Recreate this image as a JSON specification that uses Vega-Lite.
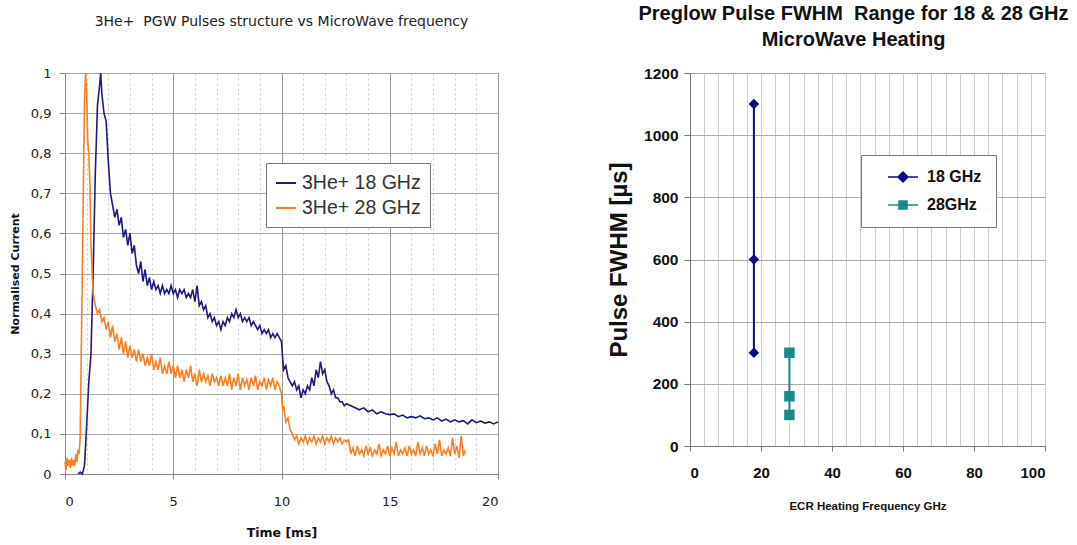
{
"$schema": "https://vega.github.io/schema/vega-lite/v6.json",
"background": "white",
"padding": {"left": 8, "top": 3, "right": 2, "bottom": 4},
"spacing": 192,
"bounds": "flush",
"resolve": {"scale": {"color": "independent", "shape": "independent"}, "legend": {"color": "independent", "shape": "independent"}},
"config": {"view": {"stroke": "#999", "strokeWidth": 1}},
"datasets": {
"pulses": [
{"s":"3He+ 18 GHz","t":0.6,"v":0},{"s":"3He+ 18 GHz","t":0.7,"v":0.005},{"s":"3He+ 18 GHz","t":0.8,"v":0},{"s":"3He+ 18 GHz","t":0.9,"v":0.02},{"s":"3He+ 18 GHz","t":1.0,"v":0.12},{"s":"3He+ 18 GHz","t":1.1,"v":0.23},{"s":"3He+ 18 GHz","t":1.2,"v":0.3},{"s":"3He+ 18 GHz","t":1.3,"v":0.5},{"s":"3He+ 18 GHz","t":1.4,"v":0.75},{"s":"3He+ 18 GHz","t":1.5,"v":0.92},{"s":"3He+ 18 GHz","t":1.6,"v":0.97},{"s":"3He+ 18 GHz","t":1.65,"v":1.0},{"s":"3He+ 18 GHz","t":1.7,"v":0.95},{"s":"3He+ 18 GHz","t":1.8,"v":0.9},{"s":"3He+ 18 GHz","t":1.9,"v":0.88},{"s":"3He+ 18 GHz","t":2.0,"v":0.78},{"s":"3He+ 18 GHz","t":2.1,"v":0.7},{"s":"3He+ 18 GHz","t":2.2,"v":0.67},{"s":"3He+ 18 GHz","t":2.3,"v":0.64},{"s":"3He+ 18 GHz","t":2.4,"v":0.66},{"s":"3He+ 18 GHz","t":2.5,"v":0.62},{"s":"3He+ 18 GHz","t":2.6,"v":0.64},{"s":"3He+ 18 GHz","t":2.7,"v":0.59},{"s":"3He+ 18 GHz","t":2.8,"v":0.61},{"s":"3He+ 18 GHz","t":2.9,"v":0.57},{"s":"3He+ 18 GHz","t":3.0,"v":0.6},{"s":"3He+ 18 GHz","t":3.1,"v":0.55},{"s":"3He+ 18 GHz","t":3.2,"v":0.57},{"s":"3He+ 18 GHz","t":3.3,"v":0.52},{"s":"3He+ 18 GHz","t":3.4,"v":0.5},{"s":"3He+ 18 GHz","t":3.5,"v":0.53},{"s":"3He+ 18 GHz","t":3.6,"v":0.48},{"s":"3He+ 18 GHz","t":3.7,"v":0.51},{"s":"3He+ 18 GHz","t":3.8,"v":0.47},{"s":"3He+ 18 GHz","t":3.9,"v":0.49},{"s":"3He+ 18 GHz","t":4.0,"v":0.46},{"s":"3He+ 18 GHz","t":4.1,"v":0.48},{"s":"3He+ 18 GHz","t":4.2,"v":0.46},{"s":"3He+ 18 GHz","t":4.3,"v":0.47},{"s":"3He+ 18 GHz","t":4.4,"v":0.45},{"s":"3He+ 18 GHz","t":4.5,"v":0.47},{"s":"3He+ 18 GHz","t":4.6,"v":0.45},{"s":"3He+ 18 GHz","t":4.7,"v":0.46},{"s":"3He+ 18 GHz","t":4.8,"v":0.45},{"s":"3He+ 18 GHz","t":4.9,"v":0.47},{"s":"3He+ 18 GHz","t":5.0,"v":0.45},{"s":"3He+ 18 GHz","t":5.1,"v":0.46},{"s":"3He+ 18 GHz","t":5.2,"v":0.44},{"s":"3He+ 18 GHz","t":5.3,"v":0.46},{"s":"3He+ 18 GHz","t":5.4,"v":0.45},{"s":"3He+ 18 GHz","t":5.5,"v":0.46},{"s":"3He+ 18 GHz","t":5.6,"v":0.44},{"s":"3He+ 18 GHz","t":5.7,"v":0.45},{"s":"3He+ 18 GHz","t":5.8,"v":0.44},{"s":"3He+ 18 GHz","t":5.9,"v":0.46},{"s":"3He+ 18 GHz","t":6.0,"v":0.43},{"s":"3He+ 18 GHz","t":6.1,"v":0.47},{"s":"3He+ 18 GHz","t":6.2,"v":0.42},{"s":"3He+ 18 GHz","t":6.3,"v":0.43},{"s":"3He+ 18 GHz","t":6.4,"v":0.41},{"s":"3He+ 18 GHz","t":6.5,"v":0.42},{"s":"3He+ 18 GHz","t":6.6,"v":0.39},{"s":"3He+ 18 GHz","t":6.7,"v":0.4},{"s":"3He+ 18 GHz","t":6.8,"v":0.38},{"s":"3He+ 18 GHz","t":6.9,"v":0.39},{"s":"3He+ 18 GHz","t":7.0,"v":0.37},{"s":"3He+ 18 GHz","t":7.1,"v":0.38},{"s":"3He+ 18 GHz","t":7.2,"v":0.36},{"s":"3He+ 18 GHz","t":7.3,"v":0.38},{"s":"3He+ 18 GHz","t":7.4,"v":0.37},{"s":"3He+ 18 GHz","t":7.5,"v":0.39},{"s":"3He+ 18 GHz","t":7.6,"v":0.38},{"s":"3He+ 18 GHz","t":7.7,"v":0.4},{"s":"3He+ 18 GHz","t":7.8,"v":0.39},{"s":"3He+ 18 GHz","t":7.9,"v":0.41},{"s":"3He+ 18 GHz","t":8.0,"v":0.39},{"s":"3He+ 18 GHz","t":8.1,"v":0.4},{"s":"3He+ 18 GHz","t":8.2,"v":0.38},{"s":"3He+ 18 GHz","t":8.3,"v":0.39},{"s":"3He+ 18 GHz","t":8.4,"v":0.38},{"s":"3He+ 18 GHz","t":8.5,"v":0.39},{"s":"3He+ 18 GHz","t":8.6,"v":0.37},{"s":"3He+ 18 GHz","t":8.7,"v":0.38},{"s":"3He+ 18 GHz","t":8.8,"v":0.37},{"s":"3He+ 18 GHz","t":8.9,"v":0.36},{"s":"3He+ 18 GHz","t":9.0,"v":0.37},{"s":"3He+ 18 GHz","t":9.1,"v":0.35},{"s":"3He+ 18 GHz","t":9.2,"v":0.36},{"s":"3He+ 18 GHz","t":9.3,"v":0.35},{"s":"3He+ 18 GHz","t":9.4,"v":0.36},{"s":"3He+ 18 GHz","t":9.5,"v":0.34},{"s":"3He+ 18 GHz","t":9.6,"v":0.35},{"s":"3He+ 18 GHz","t":9.7,"v":0.34},{"s":"3He+ 18 GHz","t":9.8,"v":0.35},{"s":"3He+ 18 GHz","t":9.9,"v":0.34},{"s":"3He+ 18 GHz","t":10.0,"v":0.33},{"s":"3He+ 18 GHz","t":10.05,"v":0.29},{"s":"3He+ 18 GHz","t":10.1,"v":0.26},{"s":"3He+ 18 GHz","t":10.2,"v":0.27},{"s":"3He+ 18 GHz","t":10.3,"v":0.24},{"s":"3He+ 18 GHz","t":10.4,"v":0.23},{"s":"3He+ 18 GHz","t":10.5,"v":0.22},{"s":"3He+ 18 GHz","t":10.6,"v":0.23},{"s":"3He+ 18 GHz","t":10.7,"v":0.21},{"s":"3He+ 18 GHz","t":10.8,"v":0.22},{"s":"3He+ 18 GHz","t":10.9,"v":0.19},{"s":"3He+ 18 GHz","t":11.0,"v":0.21},{"s":"3He+ 18 GHz","t":11.1,"v":0.2},{"s":"3He+ 18 GHz","t":11.2,"v":0.22},{"s":"3He+ 18 GHz","t":11.3,"v":0.21},{"s":"3He+ 18 GHz","t":11.4,"v":0.24},{"s":"3He+ 18 GHz","t":11.5,"v":0.22},{"s":"3He+ 18 GHz","t":11.6,"v":0.26},{"s":"3He+ 18 GHz","t":11.7,"v":0.24},{"s":"3He+ 18 GHz","t":11.8,"v":0.28},{"s":"3He+ 18 GHz","t":11.9,"v":0.25},{"s":"3He+ 18 GHz","t":12.0,"v":0.26},{"s":"3He+ 18 GHz","t":12.1,"v":0.23},{"s":"3He+ 18 GHz","t":12.2,"v":0.22},{"s":"3He+ 18 GHz","t":12.3,"v":0.2},{"s":"3He+ 18 GHz","t":12.4,"v":0.21},{"s":"3He+ 18 GHz","t":12.5,"v":0.19},{"s":"3He+ 18 GHz","t":12.6,"v":0.19},{"s":"3He+ 18 GHz","t":12.7,"v":0.18},{"s":"3He+ 18 GHz","t":12.8,"v":0.18},{"s":"3He+ 18 GHz","t":12.9,"v":0.17},{"s":"3He+ 18 GHz","t":13.0,"v":0.175},{"s":"3He+ 18 GHz","t":13.2,"v":0.17},{"s":"3He+ 18 GHz","t":13.4,"v":0.165},{"s":"3He+ 18 GHz","t":13.6,"v":0.16},{"s":"3He+ 18 GHz","t":13.8,"v":0.165},{"s":"3He+ 18 GHz","t":14.0,"v":0.155},{"s":"3He+ 18 GHz","t":14.2,"v":0.16},{"s":"3He+ 18 GHz","t":14.4,"v":0.15},{"s":"3He+ 18 GHz","t":14.6,"v":0.155},{"s":"3He+ 18 GHz","t":14.8,"v":0.15},{"s":"3He+ 18 GHz","t":15.0,"v":0.148},{"s":"3He+ 18 GHz","t":15.2,"v":0.15},{"s":"3He+ 18 GHz","t":15.4,"v":0.143},{"s":"3He+ 18 GHz","t":15.6,"v":0.147},{"s":"3He+ 18 GHz","t":15.8,"v":0.14},{"s":"3He+ 18 GHz","t":16.0,"v":0.143},{"s":"3He+ 18 GHz","t":16.2,"v":0.14},{"s":"3He+ 18 GHz","t":16.4,"v":0.145},{"s":"3He+ 18 GHz","t":16.6,"v":0.138},{"s":"3He+ 18 GHz","t":16.8,"v":0.14},{"s":"3He+ 18 GHz","t":17.0,"v":0.135},{"s":"3He+ 18 GHz","t":17.2,"v":0.14},{"s":"3He+ 18 GHz","t":17.4,"v":0.132},{"s":"3He+ 18 GHz","t":17.6,"v":0.137},{"s":"3He+ 18 GHz","t":17.8,"v":0.13},{"s":"3He+ 18 GHz","t":18.0,"v":0.135},{"s":"3He+ 18 GHz","t":18.2,"v":0.13},{"s":"3He+ 18 GHz","t":18.4,"v":0.133},{"s":"3He+ 18 GHz","t":18.6,"v":0.125},{"s":"3He+ 18 GHz","t":18.8,"v":0.135},{"s":"3He+ 18 GHz","t":19.0,"v":0.128},{"s":"3He+ 18 GHz","t":19.2,"v":0.132},{"s":"3He+ 18 GHz","t":19.4,"v":0.127},{"s":"3He+ 18 GHz","t":19.6,"v":0.13},{"s":"3He+ 18 GHz","t":19.8,"v":0.125},{"s":"3He+ 18 GHz","t":20.0,"v":0.13},
{"s":"3He+ 28 GHz","t":0.0,"v":0.03},{"s":"3He+ 28 GHz","t":0.05,"v":0.01},{"s":"3He+ 28 GHz","t":0.1,"v":0.04},{"s":"3He+ 28 GHz","t":0.15,"v":0.02},{"s":"3He+ 28 GHz","t":0.2,"v":0.035},{"s":"3He+ 28 GHz","t":0.25,"v":0.015},{"s":"3He+ 28 GHz","t":0.3,"v":0.04},{"s":"3He+ 28 GHz","t":0.35,"v":0.02},{"s":"3He+ 28 GHz","t":0.4,"v":0.035},{"s":"3He+ 28 GHz","t":0.45,"v":0.02},{"s":"3He+ 28 GHz","t":0.5,"v":0.05},{"s":"3He+ 28 GHz","t":0.55,"v":0.03},{"s":"3He+ 28 GHz","t":0.6,"v":0.06},{"s":"3He+ 28 GHz","t":0.65,"v":0.05},{"s":"3He+ 28 GHz","t":0.7,"v":0.09},{"s":"3He+ 28 GHz","t":0.75,"v":0.3},{"s":"3He+ 28 GHz","t":0.8,"v":0.5},{"s":"3He+ 28 GHz","t":0.85,"v":0.72},{"s":"3He+ 28 GHz","t":0.9,"v":0.93},{"s":"3He+ 28 GHz","t":0.95,"v":1.0},{"s":"3He+ 28 GHz","t":1.0,"v":0.95},{"s":"3He+ 28 GHz","t":1.05,"v":0.83},{"s":"3He+ 28 GHz","t":1.1,"v":0.8},{"s":"3He+ 28 GHz","t":1.15,"v":0.72},{"s":"3He+ 28 GHz","t":1.2,"v":0.58},{"s":"3He+ 28 GHz","t":1.25,"v":0.5},{"s":"3He+ 28 GHz","t":1.3,"v":0.45},{"s":"3He+ 28 GHz","t":1.4,"v":0.42},{"s":"3He+ 28 GHz","t":1.5,"v":0.4},{"s":"3He+ 28 GHz","t":1.6,"v":0.41},{"s":"3He+ 28 GHz","t":1.7,"v":0.38},{"s":"3He+ 28 GHz","t":1.8,"v":0.39},{"s":"3He+ 28 GHz","t":1.9,"v":0.36},{"s":"3He+ 28 GHz","t":2.0,"v":0.38},{"s":"3He+ 28 GHz","t":2.1,"v":0.34},{"s":"3He+ 28 GHz","t":2.2,"v":0.37},{"s":"3He+ 28 GHz","t":2.3,"v":0.33},{"s":"3He+ 28 GHz","t":2.4,"v":0.35},{"s":"3He+ 28 GHz","t":2.5,"v":0.31},{"s":"3He+ 28 GHz","t":2.6,"v":0.34},{"s":"3He+ 28 GHz","t":2.7,"v":0.3},{"s":"3He+ 28 GHz","t":2.8,"v":0.33},{"s":"3He+ 28 GHz","t":2.9,"v":0.29},{"s":"3He+ 28 GHz","t":3.0,"v":0.32},{"s":"3He+ 28 GHz","t":3.1,"v":0.29},{"s":"3He+ 28 GHz","t":3.2,"v":0.31},{"s":"3He+ 28 GHz","t":3.3,"v":0.28},{"s":"3He+ 28 GHz","t":3.4,"v":0.31},{"s":"3He+ 28 GHz","t":3.5,"v":0.28},{"s":"3He+ 28 GHz","t":3.6,"v":0.3},{"s":"3He+ 28 GHz","t":3.7,"v":0.27},{"s":"3He+ 28 GHz","t":3.8,"v":0.29},{"s":"3He+ 28 GHz","t":3.9,"v":0.27},{"s":"3He+ 28 GHz","t":4.0,"v":0.3},{"s":"3He+ 28 GHz","t":4.1,"v":0.26},{"s":"3He+ 28 GHz","t":4.2,"v":0.28},{"s":"3He+ 28 GHz","t":4.3,"v":0.26},{"s":"3He+ 28 GHz","t":4.4,"v":0.29},{"s":"3He+ 28 GHz","t":4.5,"v":0.25},{"s":"3He+ 28 GHz","t":4.6,"v":0.27},{"s":"3He+ 28 GHz","t":4.7,"v":0.25},{"s":"3He+ 28 GHz","t":4.8,"v":0.28},{"s":"3He+ 28 GHz","t":4.9,"v":0.25},{"s":"3He+ 28 GHz","t":5.0,"v":0.27},{"s":"3He+ 28 GHz","t":5.1,"v":0.24},{"s":"3He+ 28 GHz","t":5.2,"v":0.27},{"s":"3He+ 28 GHz","t":5.3,"v":0.24},{"s":"3He+ 28 GHz","t":5.4,"v":0.26},{"s":"3He+ 28 GHz","t":5.5,"v":0.23},{"s":"3He+ 28 GHz","t":5.6,"v":0.26},{"s":"3He+ 28 GHz","t":5.7,"v":0.24},{"s":"3He+ 28 GHz","t":5.8,"v":0.27},{"s":"3He+ 28 GHz","t":5.9,"v":0.23},{"s":"3He+ 28 GHz","t":6.0,"v":0.25},{"s":"3He+ 28 GHz","t":6.1,"v":0.22},{"s":"3He+ 28 GHz","t":6.2,"v":0.26},{"s":"3He+ 28 GHz","t":6.3,"v":0.23},{"s":"3He+ 28 GHz","t":6.4,"v":0.25},{"s":"3He+ 28 GHz","t":6.5,"v":0.23},{"s":"3He+ 28 GHz","t":6.6,"v":0.245},{"s":"3He+ 28 GHz","t":6.7,"v":0.22},{"s":"3He+ 28 GHz","t":6.8,"v":0.25},{"s":"3He+ 28 GHz","t":6.9,"v":0.23},{"s":"3He+ 28 GHz","t":7.0,"v":0.24},{"s":"3He+ 28 GHz","t":7.1,"v":0.22},{"s":"3He+ 28 GHz","t":7.2,"v":0.245},{"s":"3He+ 28 GHz","t":7.3,"v":0.22},{"s":"3He+ 28 GHz","t":7.4,"v":0.24},{"s":"3He+ 28 GHz","t":7.5,"v":0.22},{"s":"3He+ 28 GHz","t":7.6,"v":0.25},{"s":"3He+ 28 GHz","t":7.7,"v":0.21},{"s":"3He+ 28 GHz","t":7.8,"v":0.24},{"s":"3He+ 28 GHz","t":7.9,"v":0.22},{"s":"3He+ 28 GHz","t":8.0,"v":0.25},{"s":"3He+ 28 GHz","t":8.1,"v":0.21},{"s":"3He+ 28 GHz","t":8.2,"v":0.24},{"s":"3He+ 28 GHz","t":8.3,"v":0.22},{"s":"3He+ 28 GHz","t":8.4,"v":0.235},{"s":"3He+ 28 GHz","t":8.5,"v":0.21},{"s":"3He+ 28 GHz","t":8.6,"v":0.24},{"s":"3He+ 28 GHz","t":8.7,"v":0.22},{"s":"3He+ 28 GHz","t":8.8,"v":0.245},{"s":"3He+ 28 GHz","t":8.9,"v":0.21},{"s":"3He+ 28 GHz","t":9.0,"v":0.23},{"s":"3He+ 28 GHz","t":9.1,"v":0.22},{"s":"3He+ 28 GHz","t":9.2,"v":0.24},{"s":"3He+ 28 GHz","t":9.3,"v":0.21},{"s":"3He+ 28 GHz","t":9.4,"v":0.235},{"s":"3He+ 28 GHz","t":9.5,"v":0.22},{"s":"3He+ 28 GHz","t":9.6,"v":0.24},{"s":"3He+ 28 GHz","t":9.7,"v":0.21},{"s":"3He+ 28 GHz","t":9.8,"v":0.23},{"s":"3He+ 28 GHz","t":9.9,"v":0.22},{"s":"3He+ 28 GHz","t":10.0,"v":0.2},{"s":"3He+ 28 GHz","t":10.05,"v":0.16},{"s":"3He+ 28 GHz","t":10.1,"v":0.17},{"s":"3He+ 28 GHz","t":10.2,"v":0.13},{"s":"3He+ 28 GHz","t":10.3,"v":0.14},{"s":"3He+ 28 GHz","t":10.4,"v":0.11},{"s":"3He+ 28 GHz","t":10.5,"v":0.1},{"s":"3He+ 28 GHz","t":10.6,"v":0.085},{"s":"3He+ 28 GHz","t":10.7,"v":0.095},{"s":"3He+ 28 GHz","t":10.8,"v":0.075},{"s":"3He+ 28 GHz","t":10.9,"v":0.09},{"s":"3He+ 28 GHz","t":11.0,"v":0.08},{"s":"3He+ 28 GHz","t":11.1,"v":0.095},{"s":"3He+ 28 GHz","t":11.2,"v":0.075},{"s":"3He+ 28 GHz","t":11.3,"v":0.09},{"s":"3He+ 28 GHz","t":11.4,"v":0.08},{"s":"3He+ 28 GHz","t":11.5,"v":0.095},{"s":"3He+ 28 GHz","t":11.6,"v":0.075},{"s":"3He+ 28 GHz","t":11.7,"v":0.09},{"s":"3He+ 28 GHz","t":11.8,"v":0.08},{"s":"3He+ 28 GHz","t":11.9,"v":0.095},{"s":"3He+ 28 GHz","t":12.0,"v":0.075},{"s":"3He+ 28 GHz","t":12.1,"v":0.09},{"s":"3He+ 28 GHz","t":12.2,"v":0.08},{"s":"3He+ 28 GHz","t":12.3,"v":0.095},{"s":"3He+ 28 GHz","t":12.4,"v":0.075},{"s":"3He+ 28 GHz","t":12.5,"v":0.09},{"s":"3He+ 28 GHz","t":12.6,"v":0.08},{"s":"3He+ 28 GHz","t":12.7,"v":0.09},{"s":"3He+ 28 GHz","t":12.8,"v":0.075},{"s":"3He+ 28 GHz","t":12.9,"v":0.085},{"s":"3He+ 28 GHz","t":13.0,"v":0.08},{"s":"3He+ 28 GHz","t":13.1,"v":0.085},{"s":"3He+ 28 GHz","t":13.2,"v":0.05},{"s":"3He+ 28 GHz","t":13.3,"v":0.065},{"s":"3He+ 28 GHz","t":13.4,"v":0.045},{"s":"3He+ 28 GHz","t":13.5,"v":0.07},{"s":"3He+ 28 GHz","t":13.6,"v":0.05},{"s":"3He+ 28 GHz","t":13.7,"v":0.06},{"s":"3He+ 28 GHz","t":13.8,"v":0.045},{"s":"3He+ 28 GHz","t":13.9,"v":0.07},{"s":"3He+ 28 GHz","t":14.0,"v":0.05},{"s":"3He+ 28 GHz","t":14.1,"v":0.065},{"s":"3He+ 28 GHz","t":14.2,"v":0.045},{"s":"3He+ 28 GHz","t":14.3,"v":0.06},{"s":"3He+ 28 GHz","t":14.4,"v":0.05},{"s":"3He+ 28 GHz","t":14.5,"v":0.075},{"s":"3He+ 28 GHz","t":14.6,"v":0.045},{"s":"3He+ 28 GHz","t":14.7,"v":0.06},{"s":"3He+ 28 GHz","t":14.8,"v":0.05},{"s":"3He+ 28 GHz","t":14.9,"v":0.07},{"s":"3He+ 28 GHz","t":15.0,"v":0.045},{"s":"3He+ 28 GHz","t":15.1,"v":0.065},{"s":"3He+ 28 GHz","t":15.2,"v":0.05},{"s":"3He+ 28 GHz","t":15.3,"v":0.08},{"s":"3He+ 28 GHz","t":15.4,"v":0.045},{"s":"3He+ 28 GHz","t":15.5,"v":0.06},{"s":"3He+ 28 GHz","t":15.6,"v":0.05},{"s":"3He+ 28 GHz","t":15.7,"v":0.065},{"s":"3He+ 28 GHz","t":15.8,"v":0.045},{"s":"3He+ 28 GHz","t":15.9,"v":0.07},{"s":"3He+ 28 GHz","t":16.0,"v":0.05},{"s":"3He+ 28 GHz","t":16.1,"v":0.06},{"s":"3He+ 28 GHz","t":16.2,"v":0.045},{"s":"3He+ 28 GHz","t":16.3,"v":0.08},{"s":"3He+ 28 GHz","t":16.4,"v":0.05},{"s":"3He+ 28 GHz","t":16.5,"v":0.065},{"s":"3He+ 28 GHz","t":16.6,"v":0.045},{"s":"3He+ 28 GHz","t":16.7,"v":0.07},{"s":"3He+ 28 GHz","t":16.8,"v":0.05},{"s":"3He+ 28 GHz","t":16.9,"v":0.06},{"s":"3He+ 28 GHz","t":17.0,"v":0.045},{"s":"3He+ 28 GHz","t":17.1,"v":0.075},{"s":"3He+ 28 GHz","t":17.2,"v":0.05},{"s":"3He+ 28 GHz","t":17.3,"v":0.085},{"s":"3He+ 28 GHz","t":17.4,"v":0.045},{"s":"3He+ 28 GHz","t":17.5,"v":0.06},{"s":"3He+ 28 GHz","t":17.6,"v":0.05},{"s":"3He+ 28 GHz","t":17.7,"v":0.065},{"s":"3He+ 28 GHz","t":17.8,"v":0.045},{"s":"3He+ 28 GHz","t":17.9,"v":0.09},{"s":"3He+ 28 GHz","t":18.0,"v":0.05},{"s":"3He+ 28 GHz","t":18.1,"v":0.07},{"s":"3He+ 28 GHz","t":18.2,"v":0.04},{"s":"3He+ 28 GHz","t":18.3,"v":0.095},{"s":"3He+ 28 GHz","t":18.4,"v":0.045},{"s":"3He+ 28 GHz","t":18.5,"v":0.06}
],
"fwhm": [
{"series":"18 GHz","freq":18,"fwhm":1100},{"series":"18 GHz","freq":18,"fwhm":600},{"series":"18 GHz","freq":18,"fwhm":300},
{"series":"28GHz","freq":28,"fwhm":300},{"series":"28GHz","freq":28,"fwhm":160},{"series":"28GHz","freq":28,"fwhm":100}
]
},
"hconcat": [
{
"width": 433, "height": 401,
"title": {"text": "3He+ \u00a0PGW Pulses structure vs MicroWave frequency", "font": "DejaVu Sans", "fontSize": 14, "fontWeight": "normal", "color": "#222", "offset": 38},
"data": {"name": "pulses"},
"mark": {"type": "line", "strokeWidth": 1.6},
"encoding": {
"x": {"field": "t", "type": "quantitative", "scale": {"domain": [0, 20], "nice": false},
"axis": {"values": [0,1,2,3,4,5,6,7,8,9,10,11,12,13,14,15,16,17,18,19,20],
"gridColor": {"condition": {"test": "datum.value % 5 === 0", "value": "#999"}, "value": "#ccc"},
"gridDash": {"condition": {"test": "datum.value % 5 === 0", "value": []}, "value": [2, 3]},
"tickOpacity": {"condition": {"test": "datum.value % 5 === 0", "value": 1}, "value": 0},
"labelExpr": "datum.value % 5 === 0 ? datum.label : ''", "labelOverlap": false,
"labelFont": "DejaVu Sans", "labelFontSize": 13, "labelColor": "#222", "labelPadding": 16,
"tickSize": 5, "tickColor": "#888", "domainColor": "#888",
"title": "Time [ms]", "titleFont": "DejaVu Sans", "titleFontSize": 12.5, "titleFontWeight": "bold", "titleColor": "#111", "titlePadding": 18}},
"y": {"field": "v", "type": "quantitative", "scale": {"domain": [0, 1], "nice": false},
"axis": {"values": [0,0.1,0.2,0.3,0.4,0.5,0.6,0.7,0.8,0.9,1], "format": "~g", "labelExpr": "replace(datum.label, '.', ',')",
"gridColor": "#aaa", "tickSize": 6, "tickColor": "#888", "domainColor": "#888", "labelPadding": 8,
"labelFont": "DejaVu Sans", "labelFontSize": 13, "labelColor": "#222",
"title": "Normalised Current", "titleFont": "DejaVu Sans", "titleFontSize": 11, "titleFontWeight": "bold", "titleColor": "#111", "titlePadding": 10}},
"color": {"field": "s", "type": "nominal", "scale": {"domain": ["3He+ 18 GHz", "3He+ 28 GHz"], "range": ["#1a1a80", "#ff7f1e"]},
"legend": {"title": null, "orient": "none", "legendX": 201, "legendY": 90, "fillColor": "white", "strokeColor": "#777", "padding": 9,
"labelFont": "Liberation Sans", "labelFontSize": 19.5, "labelColor": "#333", "symbolType": "stroke", "symbolSize": 400, "symbolStrokeWidth": 2, "rowPadding": 4, "labelOffset": 5}}
}
},
{
"width": 355, "height": 373,
"title": {"text": ["Preglow Pulse FWHM \u00a0Range for 18 & 28 GHz", "MicroWave Heating"], "font": "Liberation Sans", "fontSize": 20, "fontWeight": "bold", "color": "#111", "offset": 16, "dx": -14, "lineHeight": 26},
"data": {"name": "fwhm"},
"encoding": {
"x": {"field": "freq", "type": "quantitative", "scale": {"domain": [0, 100], "nice": false},
"axis": {"values": [0,4,8,12,16,20,24,28,32,36,40,44,48,52,56,60,64,68,72,76,80,84,88,92,96,100],
"gridColor": "#ccc", "tickOpacity": {"condition": {"test": "datum.value % 20 === 0", "value": 1}, "value": 0},
"labelExpr": "datum.value % 20 === 0 ? datum.label : ''", "labelOverlap": false,
"labelFont": "Liberation Sans", "labelFontSize": 15, "labelFontWeight": "bold", "labelColor": "#111", "labelPadding": 14,
"tickSize": 5, "tickColor": "#777", "domainColor": "#777",
"title": "ECR Heating Frequency GHz", "titleFont": "Liberation Sans", "titleFontSize": 11.5, "titleFontWeight": "bold", "titleColor": "#111", "titlePadding": 20}},
"y": {"field": "fwhm", "type": "quantitative", "scale": {"domain": [0, 1200], "nice": false},
"axis": {"values": [0,200,400,600,800,1000,1200], "format": "d", "gridColor": "#aaa", "tickSize": 6, "tickColor": "#777", "domainColor": "#777", "labelPadding": 6,
"labelFont": "Liberation Sans", "labelFontSize": 15.5, "labelFontWeight": "bold", "labelColor": "#111",
"title": "Pulse FWHM [µs]", "titleFont": "Liberation Sans", "titleFontSize": 24, "titleFontWeight": "bold", "titleColor": "#111", "titlePadding": 12}},
"color": {"field": "series", "type": "nominal", "scale": {"domain": ["18 GHz", "28GHz"], "range": ["#0a0a80", "#178a87"]},
"legend": {"title": null, "orient": "none", "legendX": 171, "legendY": 82, "fillColor": "white", "strokeColor": "#777", "padding": 14,
"labelFont": "Liberation Sans", "labelFontSize": 16, "labelFontWeight": "bold", "labelColor": "#111", "symbolSize": 100, "symbolStrokeWidth": 1.5, "rowPadding": 12, "labelOffset": 16, "symbolOffset": 20,
"encode": {"symbols": {"update": {
"shape": {"signal": "datum.value === '18 GHz' ? 'M-3,0H3M0,-1L1,0L0,1L-1,0Z' : 'M-3,0H3M-0.8,-0.8H0.8V0.8H-0.8Z'"},
"fill": {"scale": "color", "field": "value"}, "stroke": {"scale": "color", "field": "value"}, "strokeWidth": {"value": 1.5}}},
"labels": {"update": {"dx": {"value": 0}}}}}}
},
"layer": [
{"mark": {"type": "line", "strokeWidth": 2}},
{"transform": [{"filter": "datum.series === '18 GHz'"}], "mark": {"type": "point", "filled": true, "size": 110, "opacity": 1, "shape": "diamond"}},
{"transform": [{"filter": "datum.series === '28GHz'"}], "mark": {"type": "point", "filled": true, "size": 110, "opacity": 1, "shape": "square"}}
]
}
]
}
